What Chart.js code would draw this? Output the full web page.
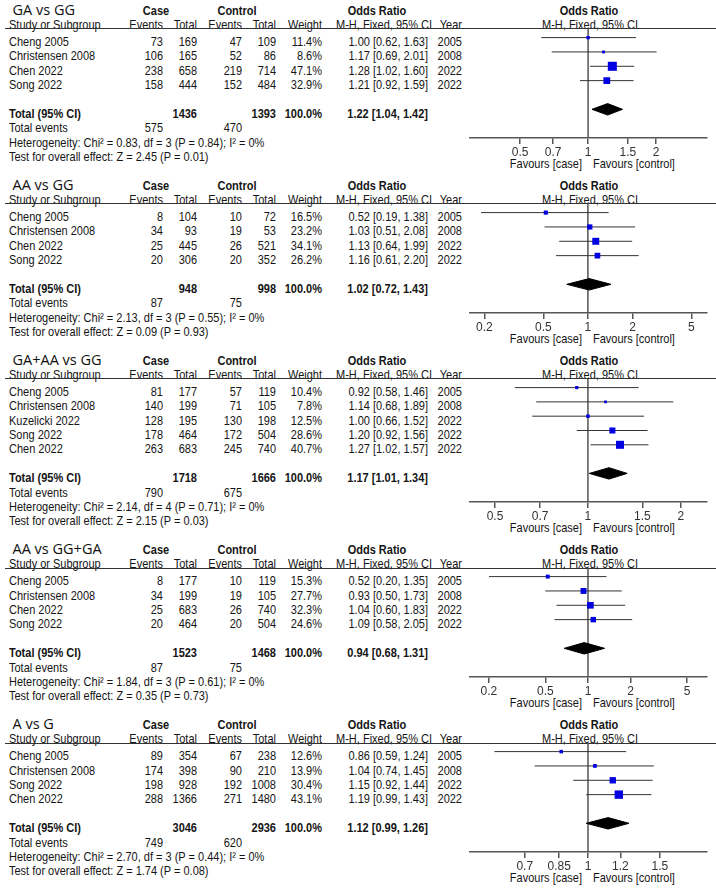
<!DOCTYPE html>
<html>
<head>
<meta charset="utf-8">
<script src="https://cdn.jsdelivr.net/npm/chart.js@4.4.1/dist/chart.umd.min.js"></script>
<style>
body { margin:0; background:#fff; }
#page { position:relative; width:716px; height:893px; overflow:hidden; font-family:"Liberation Sans", Arial, sans-serif; color:#151515; }
.t { position:absolute; white-space:nowrap; font-size:11px; line-height:14px; height:14px; transform:scaleY(1.09); transform-origin:50% 50%; }
.b { font-weight:bold; }
.ttl { font-family:"Open Sans", "Noto Sans", sans-serif; font-size:14.5px; line-height:18px; height:18px; color:#111; transform:none; }
.hl { position:absolute; left:5px; width:711px; height:0; border-top:1.5px solid #333; }
canvas { position:absolute; }
</style>
</head>
<body>
<div id="page"></div>
<script>
// valores, un elemento por panel
const titles = ['GA vs GG', 'AA vs GG', 'GA+AA vs GG', 'AA vs GG+GA', 'A vs G'];
const studyNames = [
    ['Cheng 2005', 'Christensen 2008', 'Chen 2022', 'Song 2022'],
    ['Cheng 2005', 'Christensen 2008', 'Chen 2022', 'Song 2022'],
    ['Cheng 2005', 'Christensen 2008', 'Kuzelicki 2022', 'Song 2022', 'Chen 2022'],
    ['Cheng 2005', 'Christensen 2008', 'Chen 2022', 'Song 2022'],
    ['Cheng 2005', 'Christensen 2008', 'Song 2022', 'Chen 2022']
];
const years = [
    [2005, 2008, 2022, 2022],
    [2005, 2008, 2022, 2022],
    [2005, 2008, 2022, 2022, 2022],
    [2005, 2008, 2022, 2022],
    [2005, 2008, 2022, 2022]
];
const caseEvents = [[73, 106, 238, 158], [8, 34, 25, 20], [81, 140, 128, 178, 263], [8, 34, 25, 20], [89, 174, 198, 288]];
const caseTotals = [[169, 165, 658, 444], [104, 93, 445, 306], [177, 199, 195, 464, 683], [177, 199, 683, 464], [354, 398, 928, 1366]];
const ctrlEvents = [[47, 52, 219, 152], [10, 19, 26, 20], [57, 71, 130, 172, 245], [10, 19, 26, 20], [67, 90, 192, 271]];
const ctrlTotals = [[109, 86, 714, 484], [72, 53, 521, 352], [119, 105, 198, 504, 740], [119, 105, 740, 504], [238, 210, 1008, 1480]];
const weights = [[11.4, 8.6, 47.1, 32.9], [16.5, 23.2, 34.1, 26.2], [10.4, 7.8, 12.5, 28.6, 40.7], [15.3, 27.7, 32.3, 24.6], [12.6, 13.9, 30.4, 43.1]];
const oddsRatios = [[1.00, 1.17, 1.28, 1.21], [0.52, 1.03, 1.13, 1.16], [0.92, 1.14, 1.00, 1.20, 1.27], [0.52, 0.93, 1.04, 1.09], [0.86, 1.04, 1.15, 1.19]];
const ciLow = [[0.62, 0.69, 1.02, 0.92], [0.19, 0.51, 0.64, 0.61], [0.58, 0.68, 0.66, 0.92, 1.02], [0.20, 0.50, 0.60, 0.58], [0.59, 0.74, 0.92, 0.99]];
const ciHigh = [[1.63, 2.01, 1.60, 1.59], [1.38, 2.08, 1.99, 2.20], [1.46, 1.89, 1.52, 1.56, 1.57], [1.35, 1.73, 1.83, 2.05], [1.24, 1.45, 1.44, 1.43]];

const totalCase = [1436, 948, 1718, 1523, 3046];
const totalCtrl = [1393, 998, 1666, 1468, 2936];
const pooledOR = [1.22, 1.02, 1.17, 0.94, 1.12];
const pooledLow = [1.04, 0.72, 1.01, 0.68, 0.99];
const pooledHigh = [1.42, 1.43, 1.34, 1.31, 1.26];
const eventsCase = [575, 87, 790, 87, 749];
const eventsCtrl = [470, 75, 675, 75, 620];
const chiSq = [0.83, 2.13, 2.14, 1.84, 2.70];
const dfs = [3, 3, 4, 3, 3];
const hetP = [0.84, 0.55, 0.71, 0.61, 0.44];
const iSq = [0, 0, 0, 0, 0];
const zVals = [2.45, 0.09, 2.15, 0.35, 1.74];
const zP = [0.01, 0.93, 0.03, 0.73, 0.08];

const tickValues = [[0.5, 0.7, 1, 1.5, 2], [0.2, 0.5, 1, 2, 5], [0.5, 0.7, 1, 1.5, 2], [0.2, 0.5, 1, 2, 5], [0.7, 0.85, 1, 1.2, 1.5]];
const tickLabels = [['0.5', '0.7', '1', '1.5', '2'], ['0.2', '0.5', '1', '2', '5'], ['0.5', '0.7', '1', '1.5', '2'], ['0.2', '0.5', '1', '2', '5'], ['0.7', '0.85', '1', '1.2', '1.5']];
const axisMin = [0.30, 0.16, 0.415, 0.147, 0.514];
const axisMax = [3.36, 6.37, 2.43, 6.92, 1.957];

const page = document.getElementById('page');

// pone un texto; al = 'l', 'r' o 'c'
function txt(x, y, s, al, cls) {
    const d = document.createElement('div');
    d.className = 't' + (cls ? ' ' + cls : '');
    d.textContent = s;
    if (al === 'r') { d.style.left = (x - 300) + 'px'; d.style.width = '300px'; d.style.textAlign = 'right'; }
    else if (al === 'c') { d.style.left = (x - 150) + 'px'; d.style.width = '300px'; d.style.textAlign = 'center'; }
    else { d.style.left = x + 'px'; }
    const h = (cls && cls.indexOf('ttl') >= 0) ? 18 : 14;
    d.style.top = (y - h / 2) + 'px';
    page.appendChild(d);
}

const rowH = 14.4;
let H = 29;
titles.forEach(function (title, p) {
    const n = studyNames[p].length;
    const rowY = k => H + 12.7 + rowH * (k - 1);
    const axisY = H + 109 + rowH * (n - 4);

    // cabecera
    txt(12.5, H - 19, title, 'l', 'ttl');
    txt(156, H - 18, 'Case', 'c', 'b');
    txt(237, H - 18, 'Control', 'c', 'b');
    txt(377, H - 18, 'Odds Ratio', 'c', 'b');
    txt(589, H - 18, 'Odds Ratio', 'c', 'b');
    txt(9, H - 4, 'Study or Subgroup', 'l');
    txt(163, H - 4, 'Events', 'r');
    txt(197, H - 4, 'Total', 'r');
    txt(242, H - 4, 'Events', 'r');
    txt(276, H - 4, 'Total', 'r');
    txt(322, H - 4, 'Weight', 'r');
    txt(432, H - 4, 'M-H, Fixed, 95% CI', 'r');
    txt(462, H - 4, 'Year', 'r');
    txt(590, H - 4, 'M-H, Fixed, 95% CI', 'c');
    const line = document.createElement('div');
    line.className = 'hl';
    line.style.top = (H - 0.75) + 'px';
    page.appendChild(line);

    // estudios
    studyNames[p].forEach(function (name, i) {
        const y = rowY(i + 1);
        txt(9, y, name, 'l');
        txt(163, y, String(caseEvents[p][i]), 'r');
        txt(197, y, String(caseTotals[p][i]), 'r');
        txt(242, y, String(ctrlEvents[p][i]), 'r');
        txt(276, y, String(ctrlTotals[p][i]), 'r');
        txt(322, y, weights[p][i].toFixed(1) + '%', 'r');
        txt(428, y, oddsRatios[p][i].toFixed(2) + ' [' + ciLow[p][i].toFixed(2) + ', ' + ciHigh[p][i].toFixed(2) + ']', 'r');
        txt(462, y, String(years[p][i]), 'r');
    });

    // totales
    let y = rowY(n + 2);
    txt(9, y, 'Total (95% CI)', 'l', 'b');
    txt(197, y, String(totalCase[p]), 'r', 'b');
    txt(276, y, String(totalCtrl[p]), 'r', 'b');
    txt(322, y, '100.0%', 'r', 'b');
    txt(428, y, pooledOR[p].toFixed(2) + ' [' + pooledLow[p].toFixed(2) + ', ' + pooledHigh[p].toFixed(2) + ']', 'r', 'b');
    y = rowY(n + 3);
    txt(9, y, 'Total events', 'l');
    txt(163, y, String(eventsCase[p]), 'r');
    txt(242, y, String(eventsCtrl[p]), 'r');
    txt(9, rowY(n + 4), 'Heterogeneity: Chi² = ' + chiSq[p].toFixed(2) + ', df = ' + dfs[p] + ' (P = ' + hetP[p].toFixed(2) + '); I² = ' + iSq[p] + '%', 'l');
    txt(9, rowY(n + 5), 'Test for overall effect: Z = ' + zVals[p].toFixed(2) + ' (P = ' + zP[p].toFixed(2) + ')', 'l');
    txt(582, axisY + 26, 'Favours [case]', 'r');
    txt(593, axisY + 26, 'Favours [control]', 'l');

    // grafica del panel
    const top = H - 10;
    const cH = Math.round(axisY - top + 40);
    const cv = document.createElement('canvas');
    cv.width = 256; cv.height = cH;
    cv.style.left = '460px'; cv.style.top = top + 'px';
    cv.style.width = '256px'; cv.style.height = cH + 'px';
    page.appendChild(cv);

    const yTot = n + 2;
    const datasets = [];
    datasets.push({
        data: oddsRatios[p].map((v, i) => ({ x: v, y: i + 1 })),
        showLine: false, pointStyle: 'rect',
        pointRadius: weights[p].map(w => (1.5 + 0.16 * w) / Math.SQRT2),
        pointBackgroundColor: '#0000e0', pointBorderWidth: 0
    });
    datasets.push({
        data: [{ x: pooledLow[p], y: yTot }, { x: pooledOR[p], y: yTot - 0.4 }, { x: pooledHigh[p], y: yTot }, { x: pooledOR[p], y: yTot + 0.4 }, { x: pooledLow[p], y: yTot }],
        showLine: true, fill: 'shape', backgroundColor: '#000', borderColor: '#000', borderWidth: 1, pointRadius: 0
    });
    studyNames[p].forEach(function (name, i) {
        datasets.push({
            data: [{ x: ciLow[p][i], y: i + 1 }, { x: ciHigh[p][i], y: i + 1 }],
            showLine: true, borderColor: '#333', borderWidth: 1, pointRadius: 0
        });
    });
    datasets.push({
        data: [{ x: 1, y: 0.4 }, { x: 1, y: n + 4 }],
        showLine: true, borderColor: '#555', borderWidth: 1.5, pointRadius: 0
    });

    new Chart(cv.getContext('2d'), {
        type: 'scatter',
        data: { datasets: datasets },
        options: {
            responsive: false,
            animation: false,
            devicePixelRatio: 1,
            layout: { padding: { left: 10, right: 9, top: 10, bottom: 0 } },
            plugins: { legend: { display: false }, tooltip: { enabled: false } },
            scales: {
                x: {
                    type: 'logarithmic', position: 'bottom', bounds: 'data',
                    min: axisMin[p], max: axisMax[p],
                    afterBuildTicks: s => { s.ticks = tickValues[p].map(v => ({ value: v })); },
                    afterFit: s => { s.height = 40; },
                    ticks: {
                        autoSkip: false, maxRotation: 0, minRotation: 0, padding: 1, color: '#333',
                        font: { family: 'Liberation Sans', size: 12 },
                        callback: (v, i) => tickLabels[p][i]
                    },
                    grid: { drawOnChartArea: false, drawTicks: true, tickLength: 6, color: '#555', lineWidth: 1.5 },
                    border: { display: true, color: '#555', width: 1.5 }
                },
                y: { type: 'linear', display: false, reverse: true, bounds: 'data', min: 0.4, max: n + 4 }
            }
        }
    });

    H += 175 + rowH * (n - 4);
});
</script>
</body>
</html>
